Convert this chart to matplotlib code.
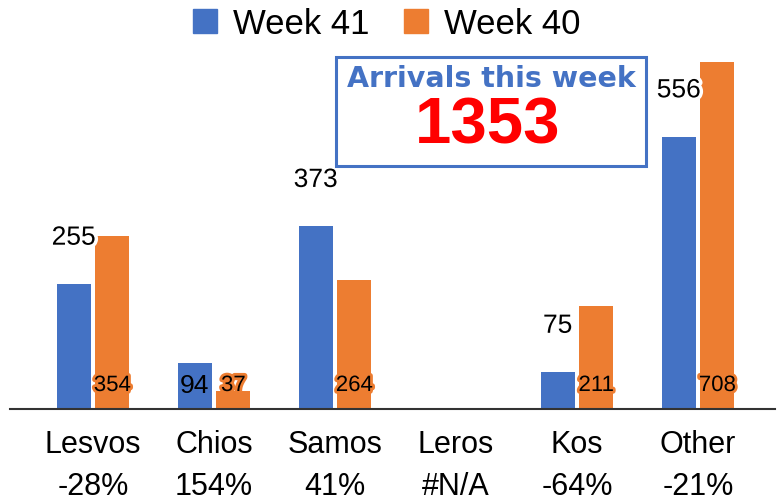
import numpy as np
import matplotlib
matplotlib.use("Agg")
import matplotlib.pyplot as plt
import matplotlib.patheffects as pe
from matplotlib.lines import Line2D
from matplotlib.patches import Rectangle

plt.rcParams["font.family"] = ["Liberation Sans", "DejaVu Sans"]

islands = ["Lesvos", "Chios", "Samos", "Leros", "Kos", "Other"]
change = ["-28%", "154%", "41%", "#N/A", "-64%", "-21%"]
week41 = [255, 94, 373, np.nan, 75, 556]
week40 = [354, 37, 264, np.nan, 211, 708]
total_this_week = 1353
inside_labels = ["Chios"]  # week 41 labels drawn inside the bar

blue = "#4472C4"
orange = "#ED7D31"

fig = plt.figure(figsize=(7.81, 5.01), dpi=100)
ax = fig.add_axes([10 / 781, 92 / 501, 765 / 781, 372 / 501])

x = np.arange(len(islands))
w = 0.28
ax.bar(x - 0.16, week41, w, color=blue, label="Week 41")
ax.bar(x + 0.16, week40, w, color=orange, label="Week 40")

ax.set_xlim(-0.686, 5.636)
ax.set_ylim(0, 760)

for i, name in enumerate(islands):
    if np.isnan(week41[i]):
        continue
    if name in inside_labels:
        ax.text(i - 0.16, 48, f"{week41[i]:.0f}", ha="center", va="center",
                fontsize=19, color="black")
    else:
        ax.text(i - 0.16, week41[i] + 95, f"{week41[i]:.0f}", ha="center",
                va="center", fontsize=19, color="black",
                path_effects=[pe.withStroke(linewidth=5, foreground="white")])
    ax.text(i + 0.16, 48, f"{week40[i]:.0f}", ha="center", va="center",
            fontsize=16, color="black",
            path_effects=[pe.withStroke(linewidth=4, foreground=orange)])

ax.set_xticks(x)
ax.set_xticklabels([f"{n}\n{c}" for n, c in zip(islands, change)],
                   fontsize=22, linespacing=1.55)
ax.tick_params(axis="x", length=0, pad=15)
ax.set_yticks([])
for s in ["left", "right", "top"]:
    ax.spines[s].set_visible(False)
ax.spines["bottom"].set_color("#333333")
ax.spines["bottom"].set_linewidth(1.5)

handles = [Line2D([], [], marker="s", ls="", color=blue, markersize=17),
           Line2D([], [], marker="s", ls="", color=orange, markersize=17)]
fig.legend(handles, ["Week 41", "Week 40"], loc="center", ncol=2,
           bbox_to_anchor=(0.494, 1 - 24 / 501), frameon=False, fontsize=25,
           handletextpad=0.4, columnspacing=0.95, handlelength=0.8)

# summary box
fig.patches.append(Rectangle((336 / 781, 1 - 166 / 501), 310 / 781, 109 / 501,
                             transform=fig.transFigure, fill=False,
                             edgecolor=blue, linewidth=2.2))
fig.text(491 / 781, 1 - 79 / 501, "Arrivals this week", ha="center",
         va="center", fontsize=20.5, fontweight="heavy", color=blue,
         family=["DejaVu Sans"])
fig.text(488 / 781, 1 - 126 / 501, str(total_this_week), ha="center",
         va="center", fontsize=47, fontweight="bold", color="#FF0000")

fig.savefig("out.png", dpi=100)
